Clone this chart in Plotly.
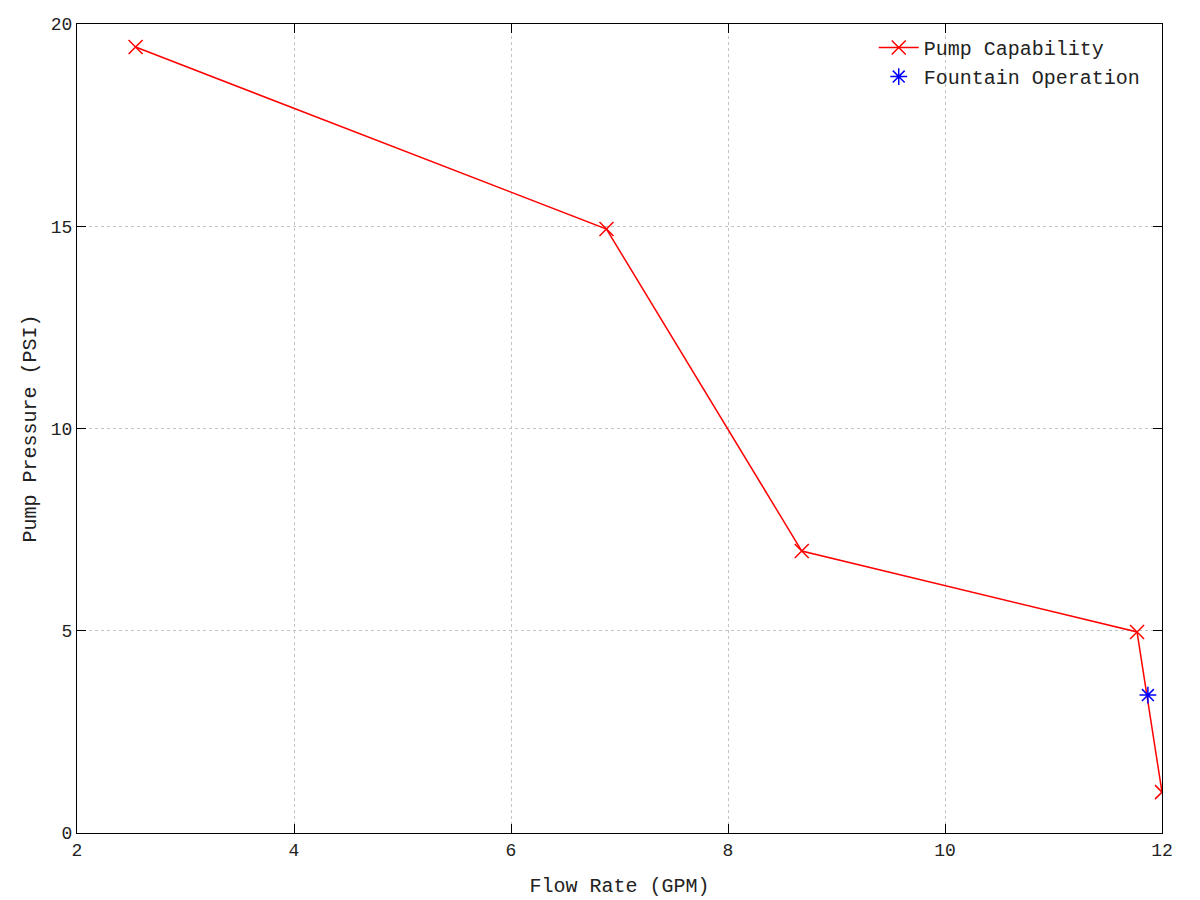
import plotly.graph_objects as go

# pump curve
flow_gpm = [2.54, 6.88, 8.68, 11.77, 12.0]
pressure_psi = [19.43, 14.93, 6.97, 4.97, 1.01]

# operating point of the fountain
op_flow = [11.87]
op_pressure = [3.41]

font_main = "Liberation Mono, Courier New, monospace"
text_color = "#222222"

fig = go.Figure()
fig.add_trace(go.Scatter(
    x=flow_gpm, y=pressure_psi,
    mode="lines+markers",
    name="Pump Capability",
    line=dict(color="red", width=1.5),
    marker=dict(symbol="x-thin-open", size=14, color="red", line=dict(color="red", width=1.5)),
))
fig.add_trace(go.Scatter(
    x=op_flow, y=op_pressure,
    mode="markers",
    name="Fountain Operation",
    marker=dict(symbol="asterisk-open", size=14, color="blue", line=dict(color="blue", width=1.5)),
))

axis_style = dict(
    showline=True, linecolor="black", linewidth=1, mirror="ticks",
    ticks="inside", ticklen=9, tickcolor="black",
    showgrid=True, gridcolor="#c4c4c4", griddash="dot", gridwidth=1,
    zeroline=False, automargin=False,
    tickfont=dict(family=font_main, size=18, color=text_color),
)

fig.update_xaxes(
    range=[2, 12], dtick=2,
    title=dict(text="Flow Rate (GPM)", font=dict(family=font_main, size=20, color=text_color), standoff=18),
    **axis_style,
)
fig.update_yaxes(
    range=[0, 20], dtick=5,
    title=dict(text="Pump Pressure (PSI)", font=dict(family=font_main, size=20, color=text_color), standoff=8),
    **axis_style,
)

# page body adds 8px, so margins are shifted to keep the plot box where the reference has it
fig.update_layout(
    width=1200, height=900,
    plot_bgcolor="white", paper_bgcolor="white",
    margin=dict(l=69, r=46, t=16, b=75),
    showlegend=True,
    legend=dict(
        x=0.985, y=0.995, xanchor="right", yanchor="top",
        bgcolor="rgba(0,0,0,0)",
        font=dict(family=font_main, size=20, color=text_color),
        tracegroupgap=0, itemwidth=40,
    ),
)

fig.write_html("out.html")
